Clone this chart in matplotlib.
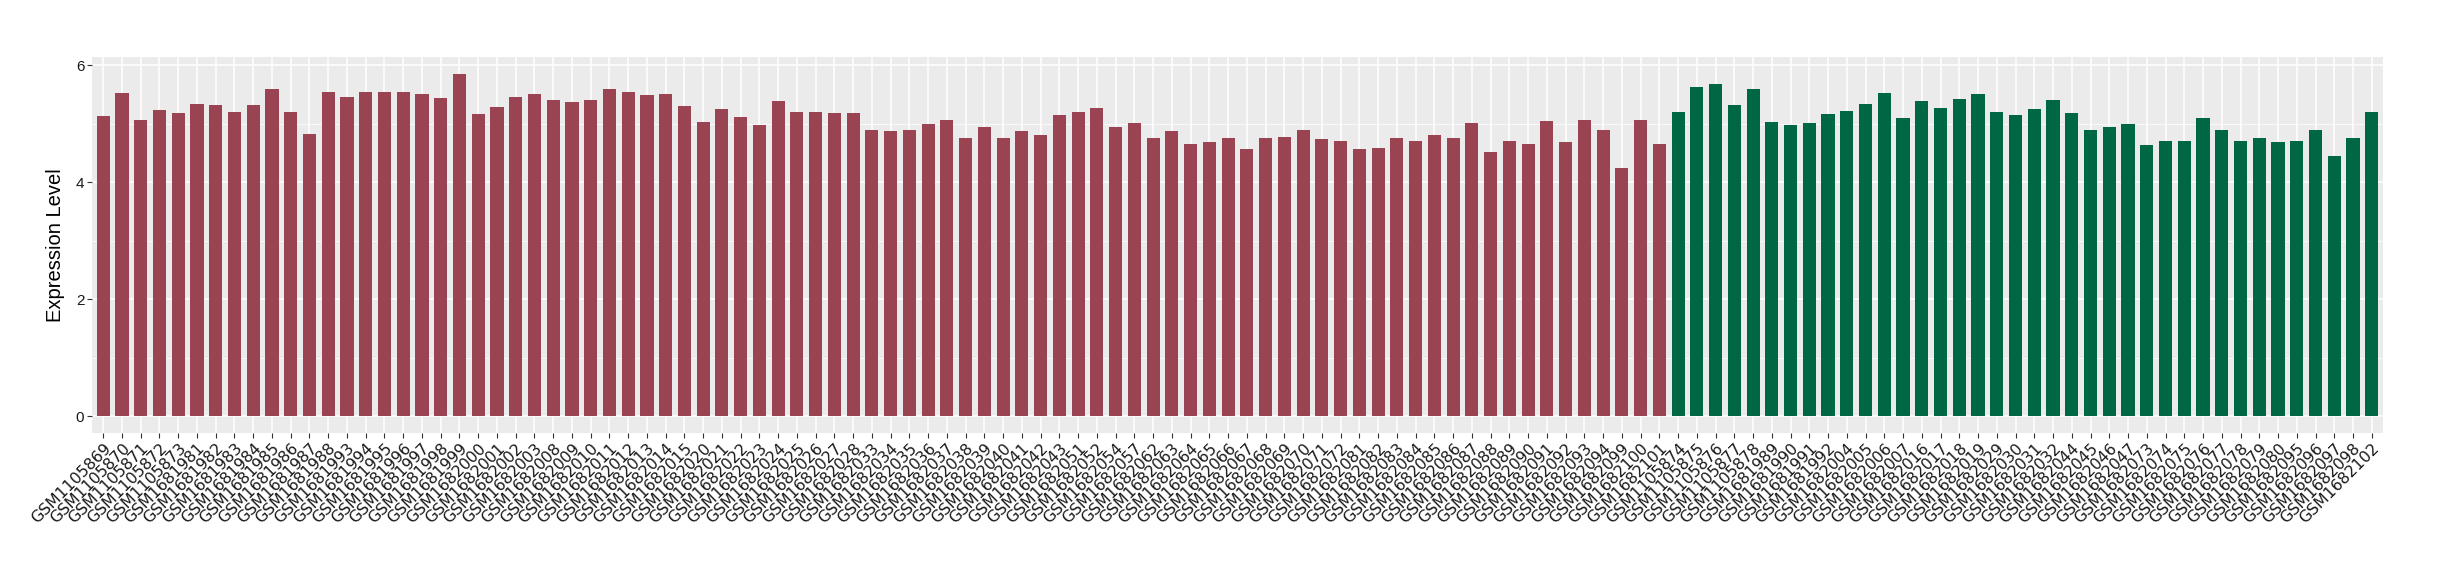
import matplotlib
matplotlib.use("Agg")
import matplotlib.pyplot as plt
import numpy as np

# ---- data ----
red_samples = (
    [f"GSM{n}" for n in range(1105869, 1105874)]
    + [f"GSM{n}" for n in range(1681981, 1681989)]
    + [f"GSM{n}" for n in range(1681993, 1682000)]
    + [f"GSM{n}" for n in range(1682000, 1682004)]
    + [f"GSM{n}" for n in range(1682008, 1682016)]
    + [f"GSM{n}" for n in range(1682020, 1682029)]
    + [f"GSM{n}" for n in range(1682033, 1682044)]
    + ["GSM1682051", "GSM1682052", "GSM1682054", "GSM1682057"]
    + [f"GSM{n}" for n in range(1682062, 1682073)]
    + [f"GSM{n}" for n in range(1682081, 1682095)]
    + ["GSM1682099", "GSM1682100", "GSM1682101"]
)
green_samples = (
    [f"GSM{n}" for n in range(1105874, 1105879)]
    + [f"GSM{n}" for n in range(1681989, 1681993)]
    + [f"GSM{n}" for n in range(1682004, 1682008)]
    + [f"GSM{n}" for n in range(1682016, 1682020)]
    + [f"GSM{n}" for n in range(1682029, 1682033)]
    + [f"GSM{n}" for n in range(1682044, 1682048)]
    + [f"GSM{n}" for n in range(1682073, 1682081)]
    + [f"GSM{n}" for n in range(1682095, 1682099)]
    + ["GSM1682102"]
)

red_values = [
    5.13, 5.52, 5.06, 5.23, 5.18, 5.33, 5.32, 5.20, 5.32, 5.59,
    5.20, 4.83, 5.54, 5.45, 5.54, 5.54, 5.54, 5.51, 5.44, 5.85,
    5.16, 5.28, 5.45, 5.51, 5.40, 5.37, 5.40, 5.59, 5.54, 5.49,
    5.51, 5.30, 5.02, 5.25, 5.11, 4.97, 5.39, 5.20, 5.20, 5.18,
    5.18, 4.89, 4.87, 4.90, 4.99, 5.07, 4.76, 4.94, 4.76, 4.87,
    4.80, 5.14, 5.20, 5.26, 4.94, 5.01, 4.76, 4.87, 4.66, 4.68,
    4.75, 4.57, 4.76, 4.78, 4.89, 4.73, 4.71, 4.57, 4.59, 4.76,
    4.70, 4.80, 4.75, 5.01, 4.52, 4.71, 4.66, 5.04, 4.68, 5.06,
    4.90, 4.25, 5.06, 4.66,
]
green_values = [
    5.20, 5.63, 5.68, 5.32, 5.59, 5.02, 4.97, 5.01, 5.16, 5.21,
    5.33, 5.52, 5.09, 5.39, 5.26, 5.42, 5.51, 5.20, 5.14, 5.25,
    5.40, 5.18, 4.89, 4.94, 4.99, 4.63, 4.70, 4.71, 5.09, 4.89,
    4.70, 4.76, 4.68, 4.70, 4.90, 4.45, 4.75, 5.20,
]

y_ticks = [0, 2, 4, 6]
y_label = "Expression Level"

# ---- plot ----
samples = red_samples + green_samples
values = red_values + green_values
colors = ["#9A4352"] * len(red_values) + ["#006745"] * len(green_values)
x = np.arange(len(samples))

fig = plt.figure(figsize=(24.4, 5.8), dpi=100)
ax = fig.add_axes([92 / 2440, 1 - 433 / 580, (2383 - 92) / 2440, (433 - 57) / 580])
ax.set_facecolor("#EBEBEB")
ax.set_axisbelow(True)

ax.bar(x, values, width=0.7, color=colors, zorder=3)

ax.set_xlim(-0.6, len(samples) - 0.4)
ax.set_ylim(-0.29, 6.14)
ax.set_yticks(y_ticks)
ax.set_yticks([1, 3, 5], minor=True)
ax.set_xticks(x)
ax.set_xticklabels(samples, rotation=45, ha="right", va="top",
                   rotation_mode="anchor", fontsize=11.3, family="DejaVu Sans",
                   color="#1a1a1a")
ax.tick_params(axis="x", length=3.5, width=0.8, color="#333333", pad=2)
ax.tick_params(axis="y", which="major", length=3.5, width=0.8, color="#333333",
               labelsize=11, labelcolor="#1a1a1a", pad=2)
ax.tick_params(axis="y", which="minor", length=0)
for lab in ax.get_yticklabels():
    lab.set_family("Liberation Sans")

ax.grid(True, which="major", color="white", linewidth=1.1)
ax.grid(True, which="minor", axis="y", color="white", linewidth=0.55)
for s in ax.spines.values():
    s.set_visible(False)

ax.set_ylabel(y_label, fontsize=14.5, family="Liberation Sans", labelpad=8)

fig.savefig("out.png", dpi=100)
